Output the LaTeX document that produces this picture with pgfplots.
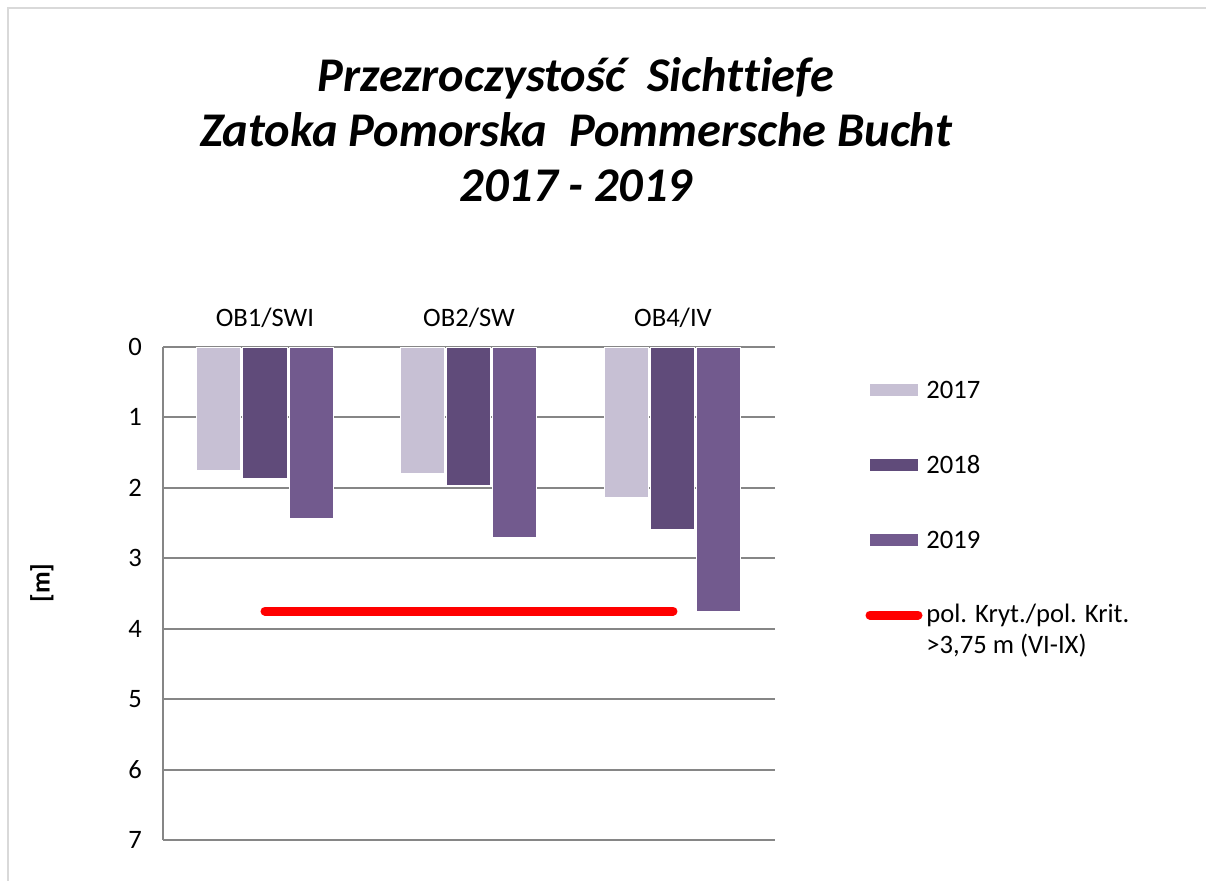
\documentclass[border=0pt]{standalone}
\usepackage{fontspec}
\setmainfont{Carlito}[Ligatures=NoCommon]
\usepackage{pgfplots}
\pgfplotsset{compat=1.18}
\definecolor{c17}{HTML}{C7C0D4}
\definecolor{c18}{HTML}{604B7A}
\definecolor{c19}{HTML}{725A8E}
\definecolor{gridc}{HTML}{868686}
\definecolor{borderc}{HTML}{D9D9D9}
\begin{document}
\begin{tikzpicture}[x=1pt,y=1pt]
\useasboundingbox (0,0) rectangle (603,440);
\draw[borderc, line width=1pt] (4,-5) -- (4,436) -- (603,436);
\node[align=center, font=\fontsize{24.2}{27.5}\selectfont\bfseries\itshape, anchor=north] at (288,415)
  {Przezroczystość\ \ Sichttiefe\\Zatoka Pomorska\ \ Pommersche Bucht\\2017 - 2019};
\begin{axis}[
  at={(81.5pt,20pt)}, anchor=south west,
  scale only axis, width=306pt, height=246.5pt,
  y dir=reverse,
  ymin=0, ymax=7, ytick={0,...,7},
  xmin=-0.5, xmax=2.5,
  xtick={0,1,2}, xticklabels={OB1/SWI,OB2/SW,OB4/IV},
  axis x line*=top, axis y line*=left,
  axis line style={gridc, line width=1pt},
  x axis line style={-}, y axis line style={-},
  ymajorgrids, grid style={gridc, line width=1pt},
  major tick length=0pt,
  tick label style={font=\fontsize{13.3}{16}\selectfont},
  /pgf/number format/assume math mode=true,
  yticklabel style={xshift=-7pt},
  xticklabel style={yshift=6pt},
  ybar=1pt, bar width=22pt,
  clip=false,
]
\addplot[fill=c17, draw=white, line width=0.5pt] coordinates {(0,1.75) (1,1.80) (2,2.14)};
\addplot[fill=c18, draw=white, line width=0.5pt] coordinates {(0,1.86) (1,1.97) (2,2.59)};
\addplot[fill=c19, draw=white, line width=0.5pt] coordinates {(0,2.43) (1,2.70) (2,3.76)};
\addplot[sharp plot, red, line width=4.5pt, line cap=round] coordinates {(0,3.75) (2,3.75)};
\end{axis}
\node[rotate=90, font=\fontsize{13.3}{16}\selectfont\bfseries] at (21,148.5) {[m]};
% legend
\begin{scope}[font=\fontsize{13.3}{16}\selectfont]
\fill[c17] (435,242) rectangle (459,248);
\node[anchor=west, inner sep=0pt] at (463,245) {2017};
\fill[c18] (435,204.5) rectangle (459,210.5);
\node[anchor=west, inner sep=0pt] at (463,207.5) {2018};
\fill[c19] (435,167) rectangle (459,173);
\node[anchor=west, inner sep=0pt] at (463,170) {2019};
\draw[red, line width=4.5pt, line cap=round] (435,132.5) -- (459,132.5);
\node[anchor=west, inner sep=0pt] at (463,132.5) {pol. Kryt./pol. Krit.};
\node[anchor=west, inner sep=0pt] at (463,117) {>3,75 m (VI-IX)};
\end{scope}
\end{tikzpicture}
\end{document}
